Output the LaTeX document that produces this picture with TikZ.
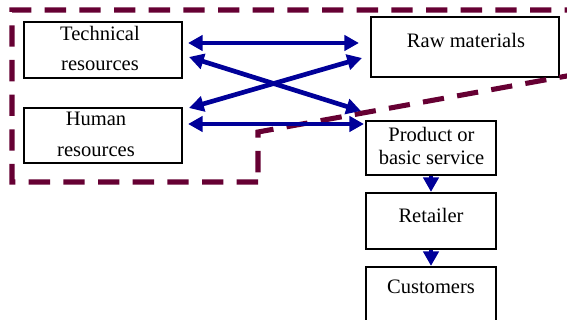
\documentclass[tikz,border=0pt]{standalone}
\usepackage{fontspec}
\setmainfont{Liberation Serif}
\usetikzlibrary{arrows.meta}
\definecolor{arrowblue}{RGB}{0,0,153}
\definecolor{maroon}{RGB}{102,0,51}
\tikzset{
  box/.style={draw=black, line width=1.6pt, rectangle, inner sep=0pt},
  txt/.style={anchor=base, inner sep=0pt, font=\fontsize{15.4}{18}\selectfont},
  biarrow/.style={draw=arrowblue, line width=3.5pt, {Triangle[length=11pt,width=11.5pt]}-{Triangle[length=11pt,width=11.5pt]}, fill=arrowblue},
  downarrow/.style={draw=arrowblue, line width=3.5pt, -{Triangle[length=11pt,width=11.5pt]}},
  zone/.style={draw=maroon, line width=3.8pt, dash pattern=on 16pt off 10pt}
}
\begin{document}
\begin{tikzpicture}[x=0.75pt,y=-0.75pt]
\useasboundingbox (0,0) rectangle (567,320);
\clip (0,0) rectangle (567,320);
% boxes
\node[box, minimum width=158*0.75pt, minimum height=56*0.75pt] (tech) at (103,50) {};
\node[box, minimum width=158*0.75pt, minimum height=55*0.75pt] (human) at (103,135.5) {};
\node[box, minimum width=188*0.75pt, minimum height=60*0.75pt] (raw) at (465,47) {};
\node[box, minimum width=130*0.75pt, minimum height=54*0.75pt] (prod) at (431,148) {};
\node[box, minimum width=130*0.75pt, minimum height=56*0.75pt] (ret) at (431,221) {};
\node[box, minimum width=130*0.75pt, minimum height=70*0.75pt] (cust) at (431,302) {};
% texts
\node[txt] (t1) at (100,41) {Technical};
\node[txt] (t2) at (100,71) {resources};
\node[txt] (h1) at (96,126) {Human};
\node[txt] (h2) at (96,157) {resources};
\node[txt] (r1) at (466,48) {Raw materials};
\node[txt] (p1) at (431.5,142) {Product or};
\node[txt] (p2) at (431.5,165) {basic service};
\node[txt] (re1) at (431,223) {Retailer};
\node[txt] (c1) at (431,293) {Customers};
% dashed zone
\draw[zone] (258,182) -- (12,182) -- (12,10) -- (575,10) -- (575,74.5) -- (258,132) -- cycle;
% arrows
\draw[biarrow] ([shift={(5,-7)}]tech.east) -- ([shift={(-11,-4)}]raw.west);
\draw[biarrow] ([shift={(6,7)}]tech.east) -- ([shift={(-4,-9)}]prod.north west);
\draw[biarrow] ([shift={(6,-27.5)}]human.east) -- ([shift={(-8,11)}]raw.west);
\draw[biarrow] ([shift={(5,-11.5)}]human.east) -- ([shift={(-1,-24)}]prod.west);
\draw[downarrow] (prod.south) -- (ret.north);
\draw[downarrow] (ret.south) -- (cust.north);
\end{tikzpicture}
\end{document}
